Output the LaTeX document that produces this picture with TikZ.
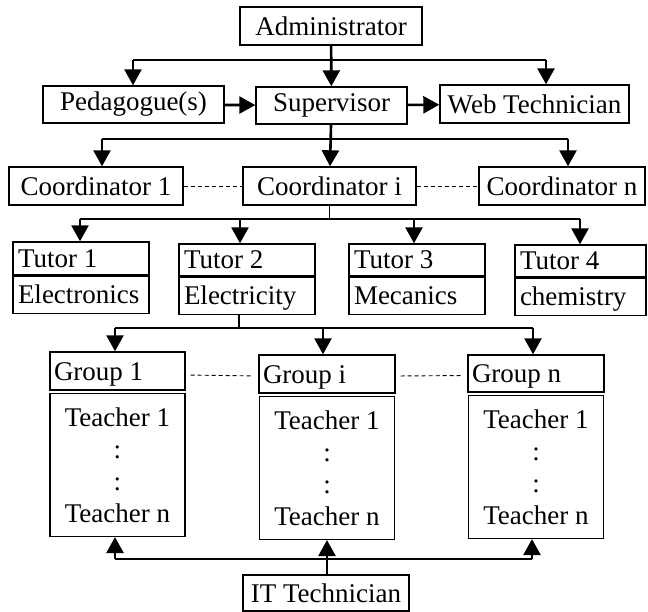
\documentclass[tikz,border=0pt]{standalone}
\usepackage{fontspec}
\setmainfont{Liberation Serif}
\usepackage{tikz}
\usetikzlibrary{arrows.meta,positioning}
\tikzset
{
    orgnode/.style = {rectangle, draw=black, line width=1.4pt, align=center,
                          minimum height=38pt, inner sep=2pt, anchor=center},
    tutornode/.style = {rectangle, draw=black, line width=1.4pt, align=flush left,
                          text width=126pt, text height=21pt, text depth=3pt,
                          inner xsep=5pt, inner ysep=0pt, anchor=center},
    listnode/.style = {rectangle, draw=black, line width=1.4pt, align=center,
                          font=\fontsize{27}{32}\selectfont,
                          minimum width=135pt, minimum height=143pt, inner sep=0pt},
    arrowline/.style = {line width=2.6pt, -{Triangle[width=17pt,length=16pt]}},
    busline/.style = {line width=1.6pt},
    dashline/.style = {line width=0.9pt, dash pattern=on 4pt off 3pt}
}
\begin{document}
\begin{tikzpicture}[
        x=1pt, y=-1pt,
        every node/.style={font=\fontsize{27}{31}\selectfont}
      ]
        \useasboundingbox (0,0) rectangle (648,612);
        % Direction:
        \node[orgnode, minimum width=182pt] (admin) at (331,26) {Administrator};
        \node[orgnode, minimum width=181pt, minimum height=37pt] (ped) at (133.5,104.5) {Pedagogue(s)};
        \node[orgnode, minimum width=151pt, minimum height=37pt] (sup) at (331.5,105.5) {Supervisor};
        \node[orgnode, minimum width=189pt] (web) at (534.5,104) {Web Technician};
        % Coordinators:
        \node[orgnode, minimum width=174pt] (coord1) at (96,186) {Coordinator 1};
        \node[orgnode, minimum width=173pt] (coordi) at (329.5,186) {Coordinator i};
        \node[orgnode, minimum width=166pt] (coordn) at (562,186) {Coordinator n};
        % Tutors:
        \node[tutornode, minimum height=33pt] (tut1) at (81,258.5) {Tutor 1};
        \node[tutornode, minimum height=37pt, below=0pt of tut1] (sub1) {Electronics};
        \node[tutornode, minimum height=32pt] (tut2) at (247,260) {Tutor 2};
        \node[tutornode, minimum height=37pt, below=0pt of tut2] (sub2) {Electricity};
        \node[tutornode, minimum height=32pt] (tut3) at (417,260) {Tutor 3};
        \node[tutornode, minimum height=37pt, below=0pt of tut3] (sub3) {Mecanics};
        \node[tutornode, text width=121pt, minimum height=32pt] (tut4) at (580.5,261) {Tutor 4};
        \node[tutornode, text width=121pt, minimum height=37pt, below=0pt of tut4] (sub4) {chemistry};
        % Groups:
        \node[tutornode, text width=127pt, inner xsep=4pt, minimum height=38pt] (grp1) at (117.5,371) {Group 1};
        \node[listnode, below=2pt of grp1] (tch1) {Teacher 1\\:\\:\\Teacher n};
        \node[tutornode, text width=128pt, inner xsep=4pt, minimum height=38pt] (grpi) at (327,374) {Group i};
        \node[listnode, below=2pt of grpi] (tchi) {Teacher 1\\:\\:\\Teacher n};
        \node[tutornode, text width=128pt, inner xsep=4pt, minimum height=37pt] (grpn) at (536,373.5) {Group n};
        \node[listnode, below=2pt of grpn] (tchn) {Teacher 1\\:\\:\\Teacher n};
        \node[orgnode, minimum width=166pt, minimum height=36pt] (it) at (326,593) {IT Technician};

        \coordinate (b1l) at (133,60);
        \coordinate (b1r) at (546,60);
        \coordinate (b2l) at (102,139);
        \coordinate (b2r) at (568,139);
        \coordinate (b3a) at (80,219);
        \coordinate (b3b) at (240,219);
        \coordinate (b3c) at (414,219);
        \coordinate (b3d) at (580,219);
        \coordinate (b4s) at (239,328);
        \coordinate (b4a) at (115,328);
        \coordinate (b4b) at (323,328);
        \coordinate (b4c) at (533,328);
        \coordinate (b5a) at (115,559);
        \coordinate (b5c) at (532,559);

        \draw[busline] (b1l) -- (b1r);
        \draw[arrowline] (admin) -- (sup);
        \draw[arrowline] (b1l) -- (b1l |- ped.north);
        \draw[arrowline] (b1r) -- (b1r |- web.north);
        \draw[arrowline] (ped) -- (sup);
        \draw[arrowline] (sup) -- (web);

        \draw[busline] (b2l) -- (b2r);
        \draw[arrowline] (sup) -- (coordi);
        \draw[arrowline] (b2l) -- (b2l |- coord1.north);
        \draw[arrowline] (b2r) -- (b2r |- coordn.north);
        \draw[dashline] (coord1) -- (coordi);
        \draw[dashline] (coordi) -- (coordn);

        \draw[busline] (b3a) -- (b3d);
        \draw[busline] (coordi) -- (coordi |- b3a);
        \draw[arrowline] (b3a) -- (b3a |- tut1.north);
        \draw[arrowline] (b3b) -- (b3b |- tut2.north);
        \draw[arrowline] (b3c) -- (b3c |- tut3.north);
        \draw[arrowline] (b3d) -- (b3d |- tut4.north);

        \draw[busline] (b4a) -- (b4c);
        \draw[busline] (b4s |- sub2.south) -- (b4s);
        \draw[arrowline] (b4a) -- (b4a |- grp1.north);
        \draw[arrowline] (b4b) -- (b4b |- grpi.north);
        \draw[arrowline] (b4c) -- (b4c |- grpn.north);
        \draw[dashline, shorten <=5pt, shorten >=5pt] ([yshift=-4pt]grp1.east) -- ([yshift=-2pt]grpi.west);
        \draw[dashline, shorten <=5pt, shorten >=5pt] ([yshift=-2pt]grpi.east) -- ([yshift=-2pt]grpn.west);

        \draw[busline] (b5a) -- (b5c);
        \draw[arrowline] (b5a) -- (b5a |- tch1.south);
        \draw[arrowline] (b5c) -- (b5c |- tchn.south);
        \draw[arrowline] (it.north -| tchi.south) -- (tchi.south);
    \end{tikzpicture}
\end{document}
